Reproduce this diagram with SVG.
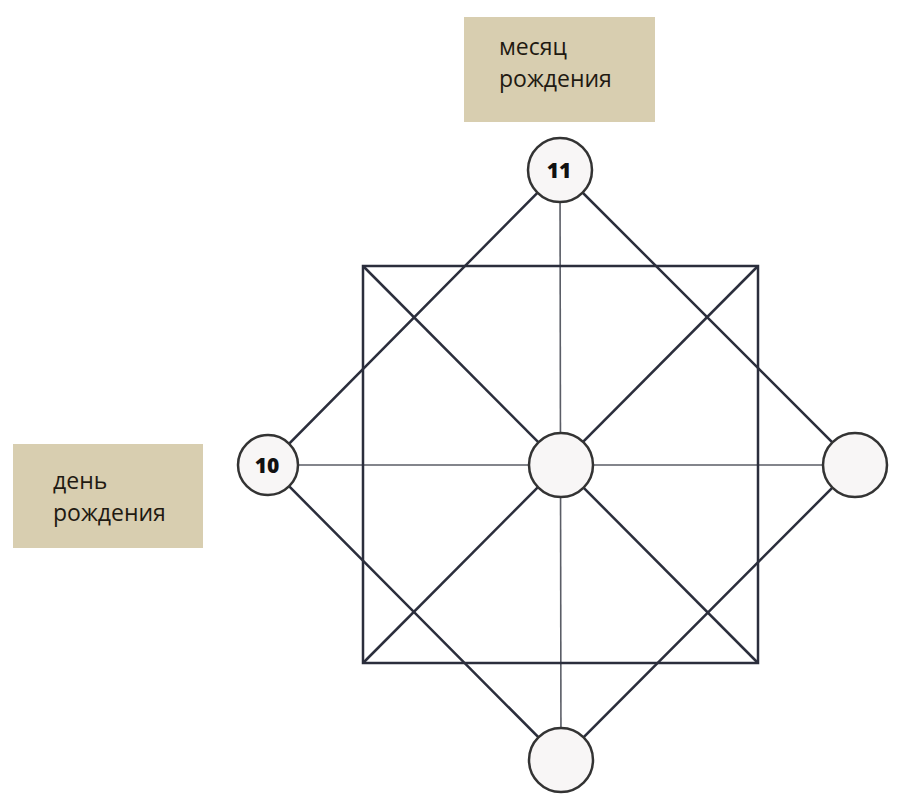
<svg xmlns="http://www.w3.org/2000/svg" width="900" height="812" viewBox="0 0 900 812">
<style>
.box{fill:#d8ceb0;}
.lbl{font-family:"Open Sans","Noto Sans","DejaVu Sans",sans-serif;font-size:23px;fill:#1f1a12;}
.edge{stroke:#2b2e3c;stroke-width:2.5;fill:none;}
.axis{stroke:#5a5d66;stroke-width:1.6;fill:none;}
.node{fill:#f8f6f6;stroke:#333;stroke-width:2.5;}
.num{font-family:"Open Sans","Noto Sans","DejaVu Sans",sans-serif;font-size:21px;font-weight:800;fill:#111;text-anchor:middle;}
</style>
<rect width="900" height="812" fill="#fff"/>
<g id="connectors">
<line class="axis" x1="560" y1="170" x2="561" y2="760"/>
<line class="axis" x1="268" y1="465" x2="855" y2="465"/>
<rect class="edge" x="363" y="266" width="395" height="397"/>
<line class="edge" x1="363" y1="266" x2="758" y2="663"/>
<line class="edge" x1="758" y1="266" x2="363" y2="663"/>
<polygon class="edge" points="560,170 855,465 561,760 268,465"/>
</g>
<g id="label-month">
<rect class="box" x="464" y="17" width="191" height="105"/>
<text class="lbl" x="499" y="55">месяц</text>
<text class="lbl" x="499" y="87">рождения</text>
</g>
<g id="label-day">
<rect class="box" x="13" y="444" width="190" height="104"/>
<text class="lbl" x="53" y="489">день</text>
<text class="lbl" x="53" y="521">рождения</text>
</g>
<g id="node-top">
<circle class="node" cx="560" cy="170" r="32"/>
<text class="num" x="559" y="178">11</text>
</g>
<g id="node-left">
<circle class="node" cx="268" cy="465" r="30"/>
<text class="num" x="267" y="473">10</text>
</g>
<g id="node-center">
<circle class="node" cx="561" cy="465" r="32"/>
</g>
<g id="node-right">
<circle class="node" cx="855" cy="465" r="32"/>
</g>
<g id="node-bottom">
<circle class="node" cx="561" cy="760" r="32"/>
</g>
</svg>
